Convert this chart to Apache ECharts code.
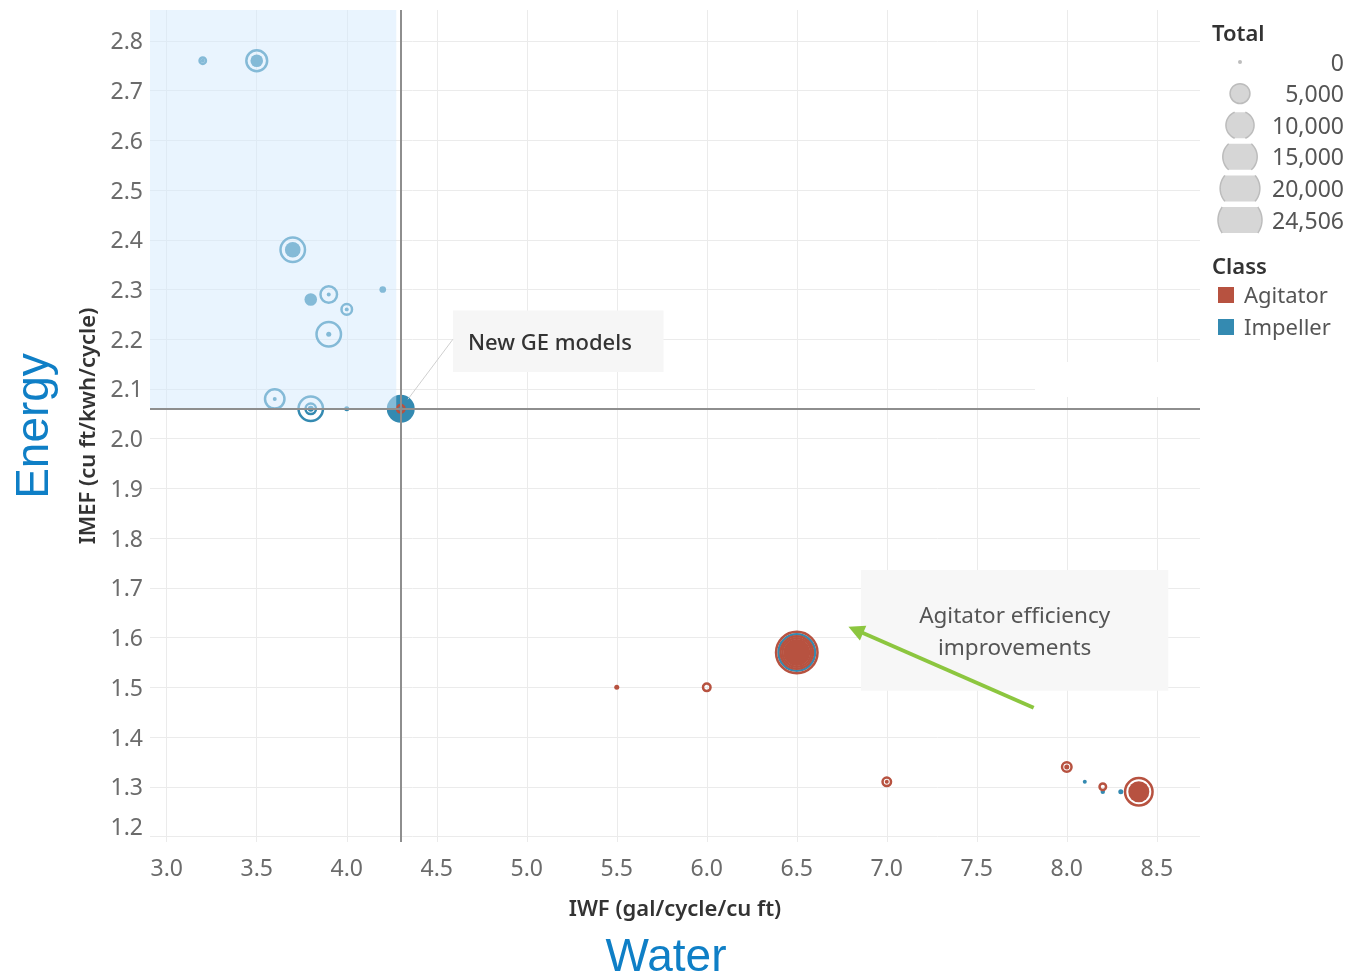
<!DOCTYPE html>
<html>
<head>
<meta charset="utf-8">
<script src="https://cdn.jsdelivr.net/npm/echarts@6/dist/echarts.min.js"></script>
<style>
  html, body { margin: 0; padding: 0; background: #fff; }
  #chart { width: 1349px; height: 979px; }
</style>
</head>
<body>
<div id="chart"></div>
<script>
// ---- data: [IWF, IMEF, Total] ----
// Impeller washers: outer rings sized by Total
const impellerTotal = [
  [3.2, 2.76, 1000], [3.5, 2.76, 6900], [3.7, 2.38, 9200], [3.9, 2.29, 4600],
  [4.0, 2.26, 2150], [3.9, 2.21, 9200], [3.6, 2.08, 6100], [3.8, 2.06, 9200],
  [3.8, 2.06, 2150], [6.5, 1.57, 19300]
];
// Impeller washers: filled marks
const impellerUnits = [
  [3.2, 2.76, 200], [3.5, 2.76, 2000], [3.7, 2.38, 3100], [3.8, 2.28, 2000],
  [3.9, 2.29, 200], [4.0, 2.26, 200], [3.9, 2.21, 320], [4.2, 2.30, 570],
  [3.6, 2.08, 200], [3.8, 2.06, 460], [4.0, 2.06, 320], [4.3, 2.06, 9900],
  [8.1, 1.31, 200], [8.2, 1.29, 250], [8.3, 1.29, 320]
];
// Agitator washers: outer rings sized by Total
const agitatorTotal = [
  [4.3, 2.06, 1270], [6.0, 1.50, 1270], [6.5, 1.57, 24506], [6.5, 1.57, 15500],
  [6.5, 1.57, 12200], [7.0, 1.31, 1530], [8.0, 1.34, 1820], [8.2, 1.30, 1030],
  [8.4, 1.29, 11400]
];
// Agitator washers: filled marks
const agitatorUnits = [
  [5.5, 1.50, 320], [6.5, 1.57, 9200], [7.0, 1.31, 200], [8.0, 1.34, 320],
  [8.4, 1.29, 5600]
];

const sizeLegendValues = [0, 5000, 10000, 15000, 20000, 24506];
const classNames = ['Agitator', 'Impeller'];

// reference point for the new GE models
const refIWF = 4.3;
const refIMEF = 2.06;

// ---- look ----
const COLORS = { Agitator: '#b75240', Impeller: '#348ab1' };
const FONT = '"Noto Sans", "Open Sans", sans-serif';
const X_MIN = 2.907, X_MAX = 8.74, Y_MIN = 1.189, Y_MAX = 2.862;

// circle diameter grows with the square root of Total
const diam = v => Math.max(3, 0.281 * Math.sqrt(v));

const chart = echarts.init(document.getElementById('chart'), null, { renderer: 'canvas' });

function filled(name, data, color) {
  return {
    type: 'scatter', name, data, z: 2, silent: true,
    symbolSize: d => diam(d[2]),
    itemStyle: { color, opacity: 1 }
  };
}
function ring(name, data, color) {
  return {
    type: 'scatter', name, data, z: 2, silent: true,
    symbolSize: d => Math.max(2, diam(d[2]) - 2.5),
    itemStyle: { color: 'rgba(255,255,255,0)', borderColor: color, borderWidth: 2.5, opacity: 1 }
  };
}

const labelStyle = { color: '#6b6b6b', fontSize: 23, fontFamily: FONT };

chart.setOption({
  animation: false,
  backgroundColor: '#fff',
  grid: { left: 150, top: 10, right: 149, bottom: 137, containLabel: false },
  xAxis: {
    type: 'value', min: X_MIN, max: X_MAX,
    minInterval: 0.5, maxInterval: 0.5, splitNumber: 12,
    axisLine: { show: false }, axisTick: { show: false },
    splitLine: { show: true, showMinLine: false, showMaxLine: false, lineStyle: { color: '#ebebeb', width: 1 } },
    axisLabel: Object.assign({ margin: 16, showMinLabel: false, showMaxLabel: false,
      formatter: v => v.toFixed(1) }, labelStyle),
    name: 'IWF (gal/cycle/cu ft)', nameLocation: 'middle', nameGap: 57,
    nameTextStyle: { color: '#333', fontSize: 22, fontWeight: 600, fontFamily: FONT }
  },
  yAxis: {
    type: 'value', min: Y_MIN, max: Y_MAX,
    minInterval: 0.1, maxInterval: 0.1, splitNumber: 17,
    axisLine: { show: false }, axisTick: { show: false },
    splitLine: { show: true, showMinLine: false, showMaxLine: false, lineStyle: { color: '#ebebeb', width: 1 } },
    axisLabel: Object.assign({ margin: 7, showMinLabel: false, showMaxLabel: false,
      formatter: v => Math.abs(v - 1.2) < 1e-6 ? '{low|1.2}' : '{n|' + v.toFixed(1) + '}',
      rich: {
        low: Object.assign({ padding: [0, 0, 16, 0] }, labelStyle),
        n: Object.assign({ padding: [4, 0, 0, 0] }, labelStyle)
      } }, labelStyle),
    name: 'IMEF (cu ft/kwh/cycle)', nameLocation: 'middle', nameGap: 48,
    nameTextStyle: { color: '#333', fontSize: 22, fontWeight: 600, fontFamily: FONT }
  },
  series: [
    filled('Impeller', impellerUnits, COLORS.Impeller),
    filled('Agitator', agitatorUnits, COLORS.Agitator),
    ring('Impeller Total', impellerTotal, COLORS.Impeller),
    ring('Agitator Total', agitatorTotal, COLORS.Agitator),
    {
      // shaded target zone and reference lines through the new GE models
      type: 'scatter', data: [], z: 5, silent: true,
      markArea: {
        silent: true, z: 4,
        itemStyle: { color: 'rgba(211,234,253,0.5)' },
        data: [[{ xAxis: X_MIN, yAxis: refIMEF }, { xAxis: 4.275, yAxis: Y_MAX }]]
      },
      markLine: {
        silent: true, z: 6, symbol: ['none', 'none'], label: { show: false },
        lineStyle: { color: '#8e8e8e', width: 2, type: 'solid' },
        data: [{ xAxis: refIWF }, { yAxis: refIMEF }]
      }
    }
  ]
});

// ---- annotations, legend and big captions ----
const px = (x, y) => chart.convertToPixel({ gridIndex: 0 }, [x, y]);
const g = [];

// box hiding grid behind a clipped note
g.push({ type: 'rect', z: 3, shape: { x: 1035, y: 362, width: 165, height: 35 }, style: { fill: '#fff' } });

// "New GE models" note
const geBox = { x0: 4.59, x1: 5.76, y0: 2.258, y1: 2.134 };
const gA = px(geBox.x0, geBox.y0), gB = px(geBox.x1, geBox.y1);
g.push({ type: 'rect', z: 20, shape: { x: gA[0], y: gA[1], width: gB[0] - gA[0], height: gB[1] - gA[1] },
  style: { fill: '#f6f6f6' } });
g.push({ type: 'text', z: 21, x: gA[0] + 15, y: (gA[1] + gB[1]) / 2 + 3,
  style: { text: 'New GE models', font: '500 22px ' + FONT, fill: '#333', align: 'left', verticalAlign: 'middle' } });
const gp = px(refIWF, refIMEF);
const lx = gA[0], ly = (gA[1] + gB[1]) / 2 - 2;
const len = Math.hypot(lx - gp[0], ly - gp[1]);
const ux = (lx - gp[0]) / len, uy = (ly - gp[1]) / len;
g.push({ type: 'line', z: 20, shape: { x1: gp[0] + ux * 12, y1: gp[1] + uy * 12, x2: lx, y2: ly },
  style: { stroke: '#d0d0d0', lineWidth: 1 } });

// "Agitator efficiency improvements" note
const agBox = { x0: 6.857, x1: 8.564, y0: 1.736, y1: 1.493 };
const aA = px(agBox.x0, agBox.y0), aB = px(agBox.x1, agBox.y1);
g.push({ type: 'rect', z: 20, shape: { x: aA[0], y: aA[1], width: aB[0] - aA[0], height: aB[1] - aA[1] },
  style: { fill: '#f7f7f7' } });
g.push({ type: 'text', z: 21, x: (aA[0] + aB[0]) / 2, y: (aA[1] + aB[1]) / 2 + 2,
  style: { text: 'Agitator efficiency\nimprovements', font: '22.5px ' + FONT, fill: '#555', lineHeight: 32,
    align: 'center', verticalAlign: 'middle' } });

// green arrow toward the agitator improvements
const arS = px(7.816, 1.459), arE = px(6.787, 1.622);
const aL = Math.hypot(arE[0] - arS[0], arE[1] - arS[1]);
const dx = (arE[0] - arS[0]) / aL, dy = (arE[1] - arS[1]) / aL;
const headL = 16, headW = 8;
const bx = arE[0] - dx * headL, by = arE[1] - dy * headL;
g.push({ type: 'line', z: 22, shape: { x1: arS[0], y1: arS[1], x2: bx + dx * 2, y2: by + dy * 2 },
  style: { stroke: '#8cc63f', lineWidth: 4 } });
g.push({ type: 'polygon', z: 22, shape: { points: [arE, [bx - dy * headW, by + dx * headW], [bx + dy * headW, by - dx * headW]] },
  style: { fill: '#8cc63f' } });

// size legend
g.push({ type: 'text', z: 20, x: 1212, y: 35, style: { text: 'Total', font: '600 22px ' + FONT, fill: '#333', verticalAlign: 'middle' } });
const rowH = 31.6, half = 13;
sizeLegendValues.forEach((v, i) => {
  const cy = 62 + i * rowH, cx = 1240, r = diam(v) / 2;
  if (r <= half) {
    g.push({ type: 'circle', z: 20, shape: { cx, cy, r: v === 0 ? 2 : r },
      style: { fill: v === 0 ? '#bdbdbd' : '#d6d6d6', stroke: '#bcbcbc', lineWidth: v === 0 ? 0 : 1.5 } });
  } else {
    const pts = [], right = [], left = [];
    for (let k = 0; k <= 72; k++) {
      const t = k / 72 * Math.PI * 2;
      const yy = r * Math.sin(t);
      pts.push([cx + r * Math.cos(t), cy + Math.max(-half, Math.min(half, yy))]);
    }
    const a = Math.asin(half / r);
    for (let k = 0; k <= 20; k++) {
      const t = -a + (2 * a) * k / 20;
      right.push([cx + r * Math.cos(t), cy + r * Math.sin(t)]);
      left.push([cx - r * Math.cos(t), cy + r * Math.sin(t)]);
    }
    g.push({ type: 'polygon', z: 20, shape: { points: pts }, style: { fill: '#d6d6d6' } });
    g.push({ type: 'polyline', z: 21, shape: { points: right }, style: { stroke: '#bcbcbc', lineWidth: 1.5, fill: null } });
    g.push({ type: 'polyline', z: 21, shape: { points: left }, style: { stroke: '#bcbcbc', lineWidth: 1.5, fill: null } });
  }
  g.push({ type: 'text', z: 20, x: 1344, y: cy + 2,
    style: { text: v.toLocaleString('en-US'), font: '23px ' + FONT, fill: '#555', align: 'right', verticalAlign: 'middle' } });
});

// colour legend
g.push({ type: 'text', z: 20, x: 1212, y: 268, style: { text: 'Class', font: '600 22px ' + FONT, fill: '#333', verticalAlign: 'middle' } });
classNames.forEach((c, i) => {
  const cy = 295 + i * 32;
  g.push({ type: 'rect', z: 20, shape: { x: 1218, y: cy - 8, width: 16, height: 16 }, style: { fill: COLORS[c] } });
  g.push({ type: 'text', z: 20, x: 1244, y: cy + 2, style: { text: c, font: '22px ' + FONT, fill: '#555', verticalAlign: 'middle' } });
});

// big captions for the two axes
g.push({ type: 'text', z: 20, x: 35, y: 426, rotation: Math.PI / 2,
  style: { text: 'Energy', font: '46px "Liberation Sans", Arial, sans-serif', fill: '#0f7fc6', align: 'center', verticalAlign: 'middle' } });
g.push({ type: 'text', z: 20, x: 666, y: 958,
  style: { text: 'Water', font: '46px "Liberation Sans", Arial, sans-serif', fill: '#0f7fc6', align: 'center', verticalAlign: 'middle' } });

chart.setOption({ graphic: { elements: g } });
</script>
</body>
</html>
